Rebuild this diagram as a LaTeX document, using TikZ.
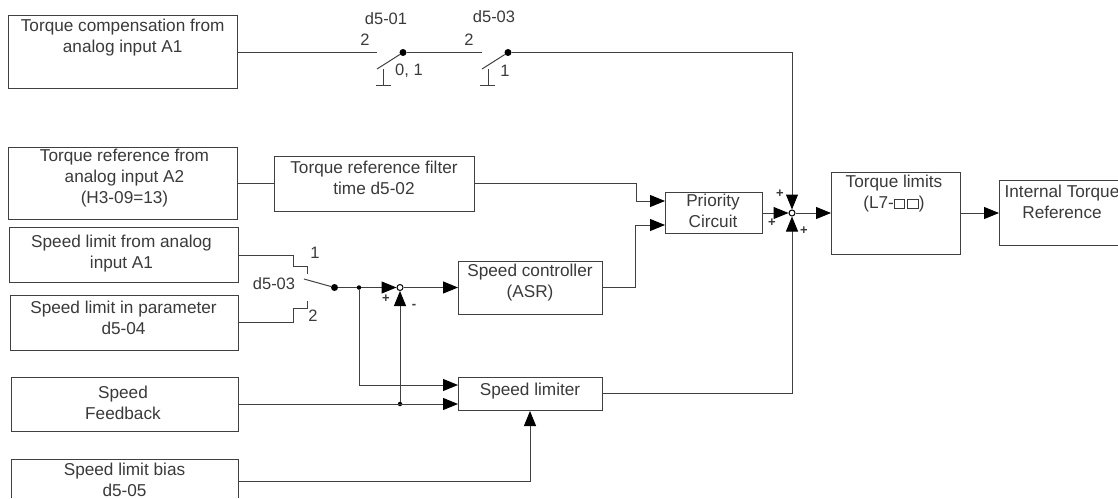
\documentclass[tikz,border=0pt]{standalone}
\usepackage{fontspec}
\setmainfont{Liberation Sans}
\usetikzlibrary{arrows.meta}
\definecolor{ink}{HTML}{3A3A3A}
\definecolor{wirec}{HTML}{404040}
\tikzset{
 x=1pt,y=-1pt,
 every node/.style={font=\fontsize{17.2}{21}\selectfont,text=ink},
 blockbox/.style={draw=wirec,line width=1pt,inner sep=0pt,anchor=north west},
 ghost/.style={inner sep=0pt,anchor=north west},
 wire/.style={draw=wirec,line width=1pt},
 flow/.style={wire,-{Triangle[length=15pt,width=12pt,color=black,fill=black]}},
 dot/.style={circle,fill=black,inner sep=0pt,minimum size=7pt},
 sdot/.style={circle,fill=black,inner sep=0pt,minimum size=4.5pt},
 sumj/.style={circle,draw=black,fill=white,line width=1pt,inner sep=0pt,minimum size=6pt},
 lab/.style={inner sep=0pt,align=center},
 tag/.style={inner sep=0pt,align=center,font=\fontsize{16.5}{20}\selectfont},
 sign/.style={inner sep=0pt,font=\fontsize{13}{14}\selectfont\bfseries},
}
\newcommand{\blk}[8]{\node[blockbox,minimum width=#4*1pt-#2*1pt,minimum height=#5*1pt-#3*1pt] (#1) at (#2,#3) {}; \node[lab] (#1t) at (#6,#7) {#8};}
\begin{document}
\begin{tikzpicture}
\useasboundingbox (0,0) rectangle (1118,498);
% blocks
\blk{a}{8}{15}{237}{88}{122.7}{38}{Torque compensation from\\analog input A1}
\blk{b}{8}{147}{237}{219}{124.5}{178}{Torque reference from\\analog input A2\\(H3-09=13)}
\blk{c}{9}{227}{238}{282}{121.5}{253.5}{Speed limit from analog\\input A1}
\blk{d}{10}{295}{238}{350}{123.5}{317.5}{Speed limit in parameter\\d5-04}
\blk{e}{10.5}{377}{238}{431}{123}{403}{Speed\\Feedback}
\blk{g}{274}{156}{474}{211}{374}{177.5}{Torque reference filter\\time d5-02}
\blk{h}{458}{261}{602}{314}{530}{282.5}{Speed controller\\(ASR)}
\blk{p}{665}{192}{762}{233}{713}{210.5}{Priority\\Circuit}
\blk{s}{458}{377}{602}{410}{530}{391}{Speed limiter}
\blk{t}{831}{172}{960}{254}{894}{194}{Torque limits\\(L7-\tikz[baseline=0pt,x=1pt,y=1pt]{\draw[line width=1pt,draw=ink] (0,0) rectangle (10.5,9.5) (13.5,0) rectangle (24,9.5);})}
% blocks cut off by the edge of the picture
\node[ghost,minimum width=119pt,minimum height=65pt] (u) at (999,180) {};
\draw[wire] (u.north east) -- (u.north west) -- (u.south west) -- (u.south east);
\node[lab] (ut) at (1062,201.5) {Internal Torque\\Reference};
\node[ghost,minimum width=227pt,minimum height=39pt] (f) at (11,459) {};
\draw[wire] (f.south west) -- (f.north west) -- (f.north east) -- (f.south east);
\node[lab] (ft) at (124.5,480) {Speed limit bias\\d5-05};
% junctions
\node[sumj] (ss) at (400,287.5) {};
\node[sumj] (sm) at (792,213) {};
\node[dot] (sw1) at (403,52.5) {};
\node[dot] (sw2) at (508,52.5) {};
\node[dot] (sw3) at (334.5,287.5) {};
\node[sdot] (j1) at (359,287.5) {};
\node[sdot] (j2) at (400,404) {};
% top switches
\coordinate (c1a) at (377,52.5);
\coordinate (c1b) at (377,69);
\coordinate (c1c) at (383,69);
\coordinate (c1d) at (383,85);
\coordinate (c1e) at (376,85);
\coordinate (c1f) at (391,85);
\coordinate (c2a) at (482,52.5);
\coordinate (c2b) at (482,69);
\coordinate (c2c) at (488,69);
\coordinate (c2d) at (488,85);
\coordinate (c2e) at (480,85);
\coordinate (c2f) at (495,85);
\draw[wire] (a.east |- c1a) -- (c1a);
\draw[wire] (c1b) -- (sw1);
\draw[wire] (c1c) -- (c1d) (c1e) -- (c1f);
\draw[wire] (sw1) -- (c2a);
\draw[wire] (c2b) -- (sw2);
\draw[wire] (c2c) -- (c2d) (c2e) -- (c2f);
\draw[flow] (sw2) -| (sm);
% selector
\coordinate (k1) at (293,255);
\coordinate (k2) at (293,266);
\coordinate (k3) at (307,266);
\coordinate (k4) at (307,274);
\coordinate (m1) at (293,322.5);
\coordinate (m2) at (293,308);
\coordinate (m3) at (307,308);
\coordinate (m4) at (307,301);
\coordinate (arm) at (304,279);
\draw[wire] (c.east |- k1) -- (k1) -- (k2) -- (k3) -- (k4);
\draw[wire] (d.east |- m1) -- (m1) -- (m2) -- (m3) -- (m4);
\draw[wire] (arm) -- (sw3);
\draw[wire] (sw3) -- (j1);
\draw[flow] (j1) -- (ss);
\draw[flow] (ss) -- (h.west |- ss);
% feedback
\coordinate (v1) at (359,385);
\coordinate (fb) at (238,404);
\draw[flow] (j1) -- (v1) -- (s.west |- v1);
\draw[flow] (e.east |- fb) -- (s.west |- fb);
\draw[flow] (j2) -- (ss);
% bias
\coordinate (bi) at (530,481);
\draw[flow] (f.east |- bi) -- (bi) -- (s.south -| bi);
% upper flows
\coordinate (q1) at (636,183);
\coordinate (q2) at (636,201);
\coordinate (r1) at (635,287);
\coordinate (r2) at (635,225);
\draw[wire] (b.east |- q1) -- (g.west |- q1);
\draw[flow] (g.east |- q1) -- (q1) -- (q2) -- (p.west |- q2);
\draw[flow] (h.east |- r1) -- (r1) -- (r2) -- (p.west |- r2);
\draw[flow] (p.east |- sm) -- (sm);
\draw[flow] (s.east |- 0,393) -| (sm);
\draw[flow] (sm) -- (t.west |- sm);
\draw[flow] (t.east |- sm) -- (u.west |- sm);
% labels
\node[tag] (l1) at (386,19) {d5-01};
\node[tag] (l2) at (365,39.5) {2};
\node[tag] (l3) at (494,17) {d5-03};
\node[tag] (l4) at (469,39.5) {2};
\node[tag] (l5) at (409,71) {0, 1};
\node[tag] (l6) at (505,71) {1};
\node[tag] (l7) at (315,253) {1};
\node[tag] (l8) at (274,284) {d5-03};
\node[tag] (l9) at (313,316) {2};
\node[sign] (s1) at (386,299) {+};
\node[sign] (s2) at (414,306) {-};
\node[sign] (s3) at (780,194) {+};
\node[sign] (s4) at (772,223) {+};
\node[sign] (s5) at (804,231) {+};
\end{tikzpicture}
\end{document}
